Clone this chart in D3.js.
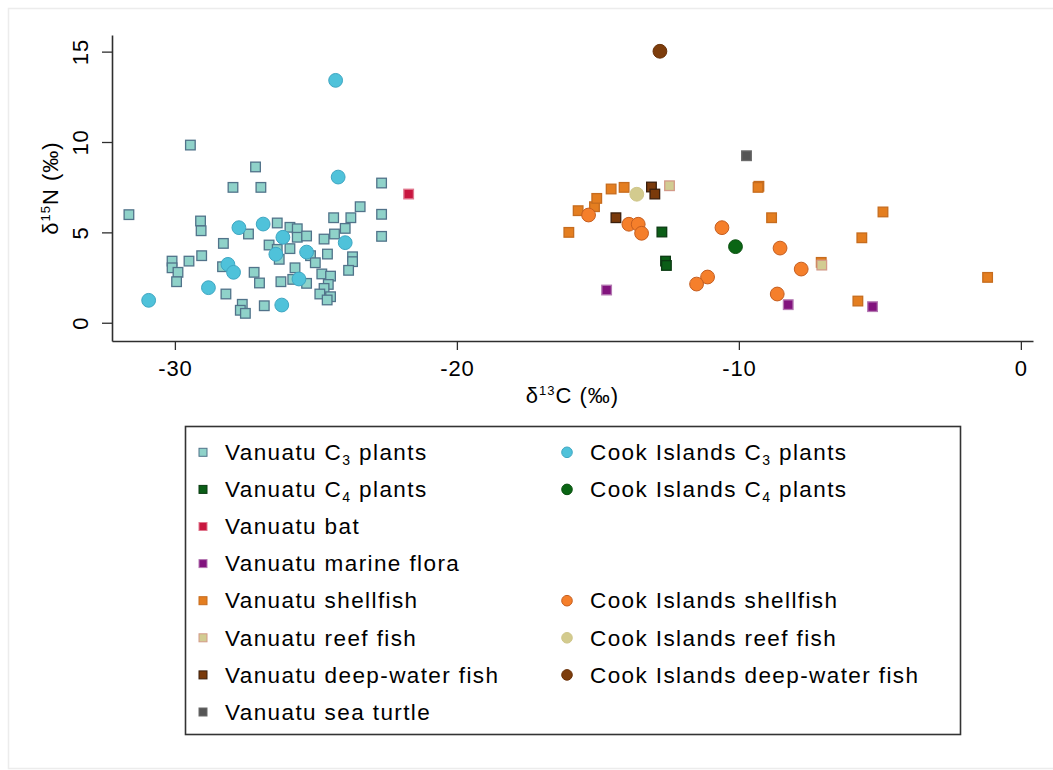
<!DOCTYPE html>
<html>
<head>
<meta charset="utf-8">
<script src="https://cdn.jsdelivr.net/npm/d3@7"></script>
<style>
  html, body { margin: 0; padding: 0; background: #ffffff; }
  svg { display: block; font-family: "Liberation Sans", Arial, Helvetica, sans-serif; }
</style>
</head>
<body>
<svg id="chart" width="1053" height="770"></svg>
<script>
// ---- Data: δ13C (x) and δ15N (y), per‰ ----
const vanuatuC3 = [
  [-29.45, 9.83], [-27.14, 8.62], [-27.94, 7.49], [-26.95, 7.49], [-31.63, 5.98],
  [-29.09, 5.63], [-29.07, 5.09], [-27.39, 4.91], [-28.28, 4.39], [-30.10, 3.41],
  [-29.50, 3.41], [-29.05, 3.71], [-30.10, 3.04], [-29.89, 2.79], [-29.94, 2.27],
  [-28.31, 3.10], [-28.19, 1.59], [-27.61, 1.02], [-27.68, 0.69], [-27.50, 0.52],
  [-27.19, 2.79], [-27.00, 2.20], [-22.67, 7.73], [-23.43, 6.42], [-24.37, 5.81],
  [-23.76, 5.81], [-22.67, 6.00], [-23.96, 5.22], [-24.34, 4.91], [-24.71, 4.63],
  [-22.67, 4.78], [-26.37, 5.52], [-25.92, 5.28], [-25.66, 5.20], [-25.66, 4.73],
  [-25.33, 4.80], [-26.66, 4.30], [-26.37, 4.06], [-25.92, 4.10], [-26.30, 3.51],
  [-25.19, 3.71], [-25.02, 3.32], [-24.59, 3.80], [-23.70, 3.65], [-23.70, 3.38],
  [-23.84, 2.90], [-25.74, 3.04], [-25.33, 2.18], [-26.24, 2.27], [-25.82, 2.40],
  [-24.79, 2.70], [-24.48, 2.58], [-24.56, 2.12], [-24.71, 1.90], [-24.86, 1.59],
  [-24.48, 1.44], [-24.60, 1.26], [-26.83, 0.94]
];
const vanuatuC4 = [[-12.73, 5.02], [-12.60, 3.41], [-12.57, 3.17]];
const vanuatuBat = [[-21.71, 7.12]];
const vanuatuMarineFlora = [[-14.69, 1.81], [-8.25, 1.00], [-5.26, 0.89]];
const vanuatuShellfish = [
  [-16.03, 5.00], [-15.70, 6.20], [-15.12, 6.42], [-15.04, 6.88], [-14.53, 7.40],
  [-14.07, 7.49], [-9.29, 7.55], [-9.32, 7.49], [-8.84, 5.81], [-4.89, 6.13],
  [-5.64, 4.70], [-7.08, 3.34], [-1.18, 2.51], [-5.78, 1.20]
];
const vanuatuReefFish = [[-12.46, 7.58], [-7.06, 3.19]];
const vanuatuDeepFish = [[-13.10, 7.51], [-12.98, 7.12], [-14.36, 5.81]];
const vanuatuTurtle = [[-9.73, 9.24]];

const cookC3 = [
  [-27.73, 5.26], [-26.87, 5.46], [-26.17, 4.73], [-26.42, 3.79], [-25.33, 3.91],
  [-23.96, 4.43], [-24.21, 8.06], [-24.30, 13.41], [-28.12, 3.23], [-27.92, 2.79],
  [-28.81, 1.94], [-30.93, 1.24], [-25.60, 2.42], [-26.21, 0.98]
];
const cookC4 = [[-10.12, 4.21]];
const cookShellfish = [
  [-15.33, 5.96], [-13.90, 5.45], [-13.57, 5.45], [-13.45, 4.95], [-10.60, 5.26],
  [-11.11, 2.53], [-11.50, 2.14], [-8.54, 4.13], [-7.79, 2.97], [-8.64, 1.59]
];
const cookReefFish = [[-13.62, 7.11]];
const cookDeepFish = [[-12.80, 15.02]];

const xTicks = [-30, -20, -10, 0];
const yTicks = [0, 5, 10, 15];

// ---- Series table: label parts, marker shape and colours ----
// label: [main text, subscript text, trailing text]
const series = [
  { key: "vC3",   data: vanuatuC3,          shape: "square", label: ["Vanuatu C", "3", " plants"],        fill: "#8fd2c9", stroke: "#51738a", col: 0, row: 0 },
  { key: "vC4",   data: vanuatuC4,          shape: "square", label: ["Vanuatu C", "4", " plants"],        fill: "#0b5e17", stroke: "#0b3a12", col: 0, row: 1 },
  { key: "vBat",  data: vanuatuBat,         shape: "square", label: ["Vanuatu bat", "", ""],              fill: "#c8163f", stroke: "#e0788e", col: 0, row: 2 },
  { key: "vMar",  data: vanuatuMarineFlora, shape: "square", label: ["Vanuatu marine flora", "", ""],     fill: "#82137e", stroke: "#b478b2", col: 0, row: 3 },
  { key: "vShl",  data: vanuatuShellfish,   shape: "square", label: ["Vanuatu shellfish", "", ""],        fill: "#e47e20", stroke: "#c66c1e", col: 0, row: 4 },
  { key: "vReef", data: vanuatuReefFish,    shape: "square", label: ["Vanuatu reef fish", "", ""],        fill: "#d2cc92", stroke: "#d39a88", col: 0, row: 5 },
  { key: "vDeep", data: vanuatuDeepFish,    shape: "square", label: ["Vanuatu deep-water fish", "", ""],  fill: "#7a3a0b", stroke: "#3a1e0c", col: 0, row: 6 },
  { key: "vTur",  data: vanuatuTurtle,      shape: "square", label: ["Vanuatu sea turtle", "", ""],       fill: "#555555", stroke: "#6a6a6a", col: 0, row: 7 },
  { key: "cC3",   data: cookC3,             shape: "circle", label: ["Cook Islands C", "3", " plants"],   fill: "#4fc2da", stroke: "#3ea6c2", col: 1, row: 0 },
  { key: "cC4",   data: cookC4,             shape: "circle", label: ["Cook Islands C", "4", " plants"],   fill: "#0a6514", stroke: "#0a5010", col: 1, row: 1 },
  { key: "cShl",  data: cookShellfish,      shape: "circle", label: ["Cook Islands shellfish", "", ""],   fill: "#f57f2b", stroke: "#c55e20", col: 1, row: 4 },
  { key: "cReef", data: cookReefFish,       shape: "circle", label: ["Cook Islands reef fish", "", ""],   fill: "#d3cb8e", stroke: "#cfc68a", col: 1, row: 5 },
  { key: "cDeep", data: cookDeepFish,       shape: "circle", label: ["Cook Islands deep-water fish", "", ""], fill: "#7d3d0c", stroke: "#6a320a", col: 1, row: 6 }
];

// ---- Layout ----
const svg = d3.select("#chart");
const plot = { left: 112, right: 1033, top: 35, bottom: 341 };

const x = d3.scaleLinear().domain([-32.23, 0.43]).range([plot.left, plot.right]);
const y = d3.scaleLinear().domain([-1.01, 15.92]).range([plot.bottom, plot.top]);

// faint outer graph frame
svg.append("path")
  .attr("d", "M1060,8.5 H8.5 V768.5 H1060")
  .attr("fill", "none")
  .attr("stroke", "#ececec")
  .attr("stroke-width", 1.5);

const axisColor = "#2e2e2e";
const tickFont = 22;

// x axis
const gx = svg.append("g")
  .attr("transform", `translate(0,${plot.bottom})`)
  .call(d3.axisBottom(x).tickValues(xTicks).tickSize(9).tickSizeOuter(0).tickFormat(d3.format("d")));
gx.select(".domain").attr("stroke", axisColor).attr("stroke-width", 1.6);
gx.selectAll(".tick line").attr("stroke", axisColor).attr("stroke-width", 1.3);
gx.selectAll(".tick text")
  .attr("y", 35).attr("dy", null)
  .attr("fill", "#000")
  .style("font-size", tickFont + "px")
  .style("letter-spacing", "0.8px")
  .style("font-family", '"Liberation Sans", Arial, sans-serif')
  .text(d => d === 0 ? "0" : "-" + Math.abs(d));

// y axis
const gy = svg.append("g")
  .attr("transform", `translate(${plot.left},0)`)
  .call(d3.axisLeft(y).tickValues(yTicks).tickSize(10).tickSizeOuter(0).tickFormat(d3.format("d")));
gy.select(".domain").attr("stroke", axisColor).attr("stroke-width", 1.6);
gy.selectAll(".tick line").attr("stroke", axisColor).attr("stroke-width", 1.3);
gy.selectAll(".tick text")
  .attr("x", null).attr("y", null).attr("dy", null)
  .attr("text-anchor", "middle")
  .attr("transform", "translate(-24.5,0) rotate(-90)")
  .attr("fill", "#000")
  .style("font-size", tickFont + "px")
  .style("letter-spacing", "0.8px")
  .style("font-family", '"Liberation Sans", Arial, sans-serif');

// axis titles with superscript mass numbers
function isotopeTitle(g, sup, letter) {
  const t = g.append("text")
    .attr("text-anchor", "middle")
    .attr("fill", "#000")
    .style("font-size", "22px")
    .style("letter-spacing", "1px");
  t.append("tspan").text("δ");
  t.append("tspan").attr("dy", -8).style("font-size", "13px").text(sup);
  t.append("tspan").attr("dy", 8).text(letter + " (‰)");
  return t;
}
isotopeTitle(svg.append("g").attr("transform", `translate(${(plot.left + plot.right) / 2},403)`), "13", "C");
isotopeTitle(svg.append("g").attr("transform", `translate(58,${(plot.top + plot.bottom) / 2}) rotate(-90)`), "15", "N");

// ---- Marks ----
const sq = 9.6;     // square side
const rad = 6.9;    // circle radius
const marks = svg.append("g");

series.filter(s => s.shape === "square").forEach(s => {
  marks.append("g").selectAll("rect").data(s.data).join("rect")
    .attr("x", d => x(d[0]) - sq / 2)
    .attr("y", d => y(d[1]) - sq / 2)
    .attr("width", sq).attr("height", sq)
    .attr("fill", s.fill)
    .attr("stroke", s.stroke)
    .attr("stroke-width", 1.3);
});
series.filter(s => s.shape === "circle").forEach(s => {
  marks.append("g").selectAll("circle").data(s.data).join("circle")
    .attr("cx", d => x(d[0]))
    .attr("cy", d => y(d[1]))
    .attr("r", rad)
    .attr("fill", s.fill)
    .attr("stroke", s.stroke)
    .attr("stroke-width", 1);
});

// ---- Legend ----
const legend = { left: 185.5, top: 426.5, right: 960.5, bottom: 734.5 };
svg.append("rect")
  .attr("x", legend.left).attr("y", legend.top)
  .attr("width", legend.right - legend.left)
  .attr("height", legend.bottom - legend.top)
  .attr("fill", "#fff")
  .attr("stroke", "#333")
  .attr("stroke-width", 1.6);

const rowY = d3.scaleLinear().domain([0, 7]).range([452.3, 712]);
const colMarkX = [203, 567];
const colTextX = [225, 590];

const lg = svg.append("g");
series.forEach(s => {
  const cy = rowY(s.row);
  if (s.shape === "square") {
    lg.append("rect")
      .attr("x", colMarkX[s.col] - 4).attr("y", cy - 4)
      .attr("width", 8).attr("height", 8)
      .attr("fill", s.fill).attr("stroke", s.stroke).attr("stroke-width", 1);
  } else {
    lg.append("circle")
      .attr("cx", colMarkX[s.col]).attr("cy", cy).attr("r", 5.3)
      .attr("fill", s.fill).attr("stroke", s.stroke).attr("stroke-width", 1);
  }
  const t = lg.append("text")
    .attr("x", colTextX[s.col]).attr("y", cy + 7.7)
    .attr("fill", "#000")
    .style("font-size", "22.5px")
    .style("letter-spacing", "1.4px");
  t.append("tspan").text(s.label[0]);
  if (s.label[1]) {
    t.append("tspan").attr("dy", 5).style("font-size", "14px").text(s.label[1]);
    t.append("tspan").attr("dy", -5).text(s.label[2]);
  }
});
</script>
</body>
</html>
